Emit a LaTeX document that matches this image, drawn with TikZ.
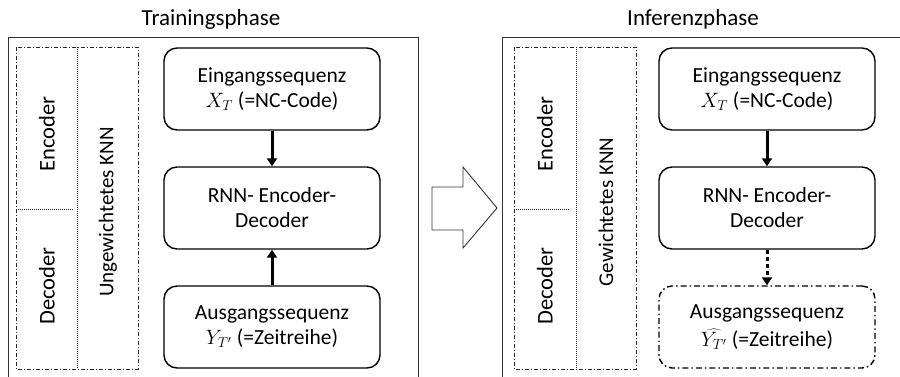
\documentclass[tikz,border=0pt]{standalone}
\usepackage{fontspec}
\setmainfont{Carlito}
\usetikzlibrary{arrows.meta}
\begin{document}
\begin{tikzpicture}[x=1pt,y=-1pt,
  txt/.style={font=\fontsize{21.5}{25}\selectfont},
  titletxt/.style={font=\fontsize{23}{27}\selectfont},
  frame/.style={draw=black!80, line width=1pt},
  colbox/.style={draw=black!85, line width=0.9pt, dash pattern=on 4pt off 2pt on 1pt off 2pt},
  divline/.style={draw=black!85, line width=0.8pt, dash pattern=on 1pt off 1pt},
  stepbox/.style={draw, line width=1.4pt, rounded corners=13pt, minimum width=216pt, minimum height=82pt, align=center, txt},
  ghostbox/.style={stepbox, dash pattern=on 6pt off 3pt on 1.5pt off 3pt},
  flow/.style={line width=3pt, -{Triangle[length=8pt,width=10pt]}},
  partlabel/.style={font=\fontsize{22.5}{26}\selectfont, rotate=90},
  netlabel/.style={font=\fontsize{21}{25}\selectfont, rotate=90}]
\useasboundingbox (0,0) rectangle (900,376);
\clip (0,0) rectangle (900,376);

% ---------- Trainingsphase ----------
\node[titletxt] (t1) at (211,19) {Trainingsphase};
\draw[frame] (8,378) -- (8,37) -- (418,37) -- (418,378);
\draw[colbox] (16,47) rectangle (138,369);
\draw[divline] (77,47) -- (77,369);
\draw[divline] (16,209) -- (73,209);
\node[partlabel] (enc1) at (47,134) {Encoder};
\node[partlabel] (dec1) at (47,286) {Decoder};
\node[netlabel] (knn1) at (108,212) {Ungewichtetes KNN};

\node[stepbox] (in1) at (272,89) {Eingangssequenz\\$X_T$ (=NC-Code)};
\node[stepbox] (rnn1) at (272,208) {RNN- Encoder-\\Decoder};
\node[stepbox] (out1) at (272,327) {Ausgangssequenz\\$Y_{T'}$ (=Zeitreihe)};
\draw[flow] (in1) -- (rnn1);
\draw[flow] (out1) -- (rnn1);

% ---------- transition arrow ----------
\draw[line width=0.9pt, draw=black!80, fill=white]
  (432,187) -- (463,187) -- (463,167) -- (497,208) -- (463,248) -- (463,230) -- (432,230) -- cycle;

% ---------- Inferenzphase ----------
\node[titletxt] (t2) at (693,19) {Inferenzphase};
\draw[frame] (502,378) -- (502,37) -- (902,37);
\draw[colbox] (514,47) rectangle (636,369);
\draw[divline] (576,47) -- (576,369);
\draw[divline] (514,209) -- (570,209);
\node[partlabel] (enc2) at (545,134) {Encoder};
\node[partlabel] (dec2) at (545,286) {Decoder};
\node[netlabel] (knn2) at (606,212) {Gewichtetes KNN};

\node[stepbox] (in2) at (767,89) {Eingangssequenz\\$X_T$ (=NC-Code)};
\node[stepbox] (rnn2) at (767,208) {RNN- Encoder-\\Decoder};
\node[ghostbox] (out2) at (767,327) {Ausgangssequenz\\[3pt]$\widehat{Y_{T'}}$ (=Zeitreihe)};
\draw[flow] (in2) -- (rnn2);
\draw[flow, dash pattern=on 4pt off 3pt] (rnn2) -- (out2);
\end{tikzpicture}
\end{document}
